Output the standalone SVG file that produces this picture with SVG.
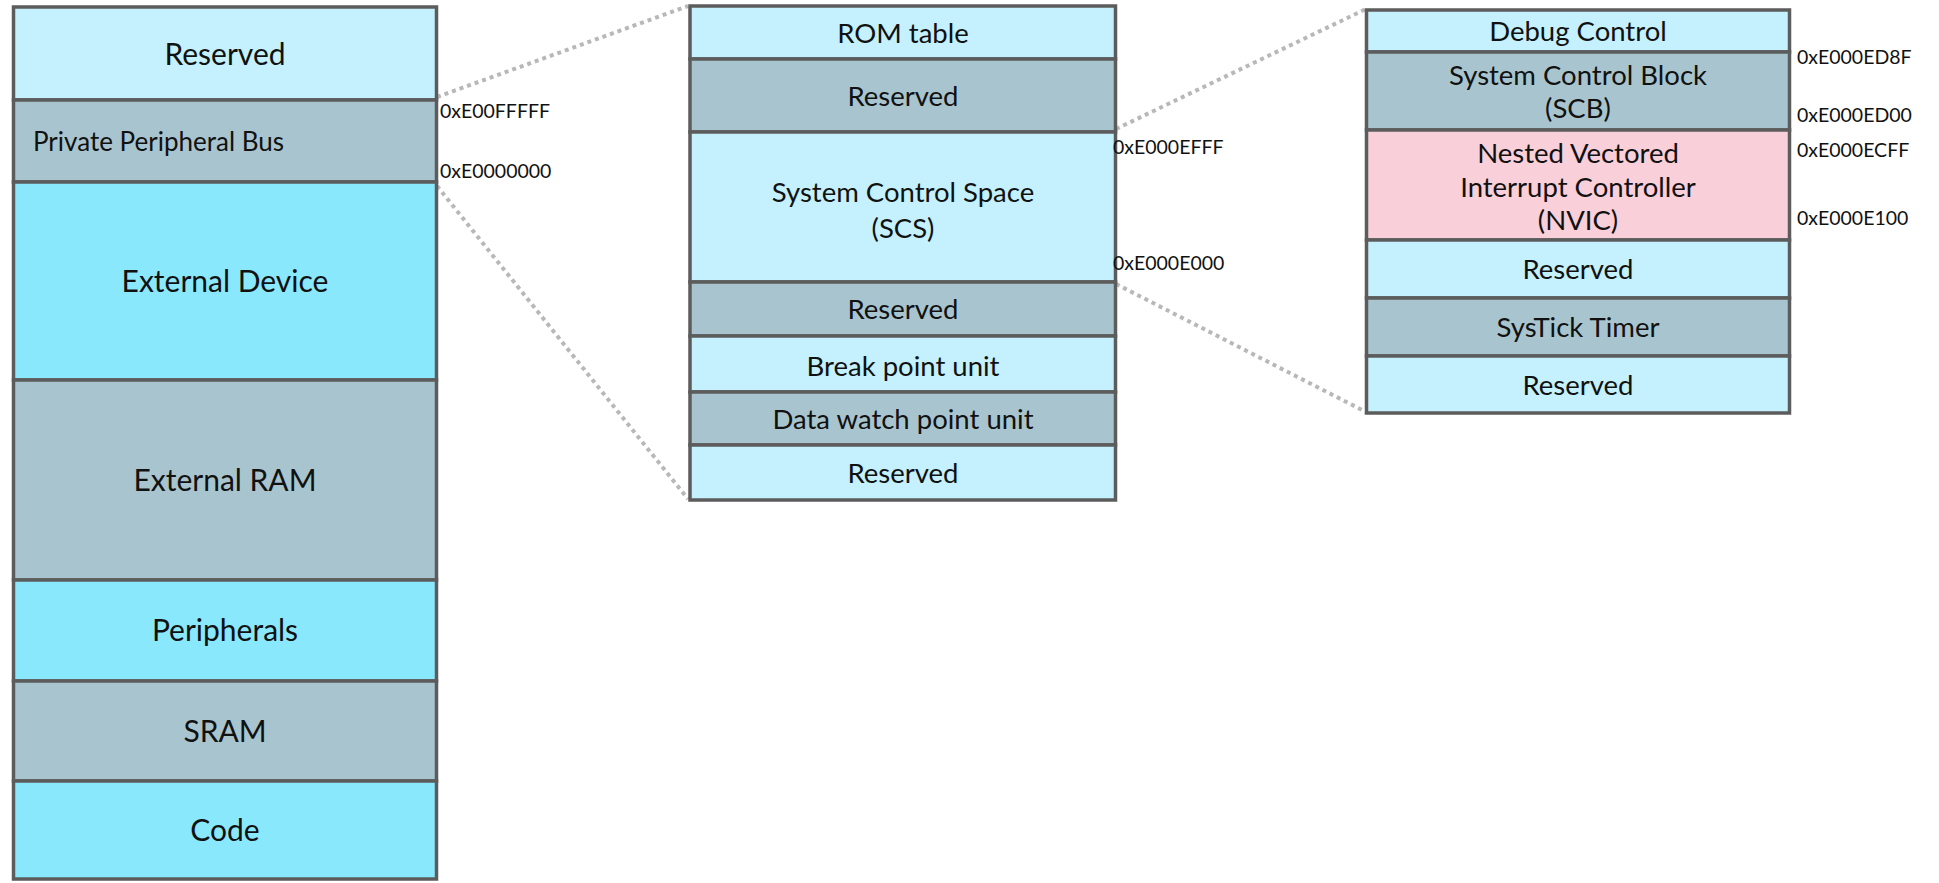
<svg xmlns="http://www.w3.org/2000/svg" width="1939" height="883" viewBox="0 0 1939 883">
<style>
.b{stroke:#5c5c5c;stroke-width:3.5}
.lc{fill:#c4f1fd}
.mc{fill:#8ae8fd}
.gb{fill:#a8c5cf}
.pk{fill:#f9cfda}
text{font-family:Lato,"Open Sans","Liberation Sans",sans-serif;fill:#111}
.t1{font-size:30px;text-anchor:middle}
.t2{font-size:27.5px;text-anchor:middle}
.t3{font-size:26px}
.ad{font-size:19.5px}
.dot{stroke:#b8b8b8;stroke-width:4;stroke-dasharray:4 4;fill:none}
</style>
<rect width="1939" height="883" fill="#fff"/>
<g id="connectors">
<line class="dot" x1="437" y1="97" x2="688" y2="6"/>
<line class="dot" x1="437" y1="186" x2="688" y2="499"/>
<line class="dot" x1="1116" y1="129" x2="1366" y2="9"/>
<line class="dot" x1="1116" y1="284" x2="1366" y2="412"/>
</g>
<g id="left-map">
<g id="reserved-top"><rect class="b lc" x="13.5" y="7" width="423" height="93"/><text class="t1" x="225" y="65">Reserved</text></g>
<g id="ppb"><rect class="b gb" x="13.5" y="100" width="423" height="82"/><text class="t3" x="33" y="151">Private Peripheral Bus</text></g>
<g id="external-device"><rect class="b mc" x="13.5" y="182" width="423" height="198"/><text class="t1" x="225" y="292">External Device</text></g>
<g id="external-ram"><rect class="b gb" x="13.5" y="380" width="423" height="200"/><text class="t1" x="225" y="491">External RAM</text></g>
<g id="peripherals"><rect class="b mc" x="13.5" y="580" width="423" height="101"/><text class="t1" x="225" y="641">Peripherals</text></g>
<g id="sram"><rect class="b gb" x="13.5" y="681" width="423" height="100"/><text class="t1" x="225" y="742">SRAM</text></g>
<g id="code"><rect class="b mc" x="13.5" y="781" width="423" height="98"/><text class="t1" x="225" y="841">Code</text></g>
</g>
<g id="ppb-map">
<g id="rom-table"><rect class="b lc" x="690" y="6" width="425.5" height="53"/><text class="t2" x="903" y="43">ROM table</text></g>
<g id="ppb-reserved-1"><rect class="b gb" x="690" y="59" width="425.5" height="73"/><text class="t2" x="903" y="106">Reserved</text></g>
<g id="scs"><rect class="b lc" x="690" y="132" width="425.5" height="150"/><text class="t2" x="903" y="202">System Control Space</text><text class="t2" x="903" y="238">(SCS)</text></g>
<g id="ppb-reserved-2"><rect class="b gb" x="690" y="282" width="425.5" height="54"/><text class="t2" x="903" y="319">Reserved</text></g>
<g id="bpu"><rect class="b lc" x="690" y="336" width="425.5" height="56"/><text class="t2" x="903" y="376">Break point unit</text></g>
<g id="dwpu"><rect class="b gb" x="690" y="392" width="425.5" height="53"/><text class="t2" x="903" y="429">Data watch point unit</text></g>
<g id="ppb-reserved-3"><rect class="b lc" x="690" y="445" width="425.5" height="55"/><text class="t2" x="903" y="483">Reserved</text></g>
</g>
<g id="scs-map">
<g id="debug-control"><rect class="b lc" x="1366.5" y="10" width="423" height="42"/><text class="t2" x="1578" y="41">Debug Control</text></g>
<g id="scb"><rect class="b gb" x="1366.5" y="52" width="423" height="78"/><text class="t2" x="1578" y="85">System Control Block</text><text class="t2" x="1578" y="118">(SCB)</text></g>
<g id="nvic"><rect class="b pk" x="1366.5" y="130" width="423" height="110"/><text class="t2" x="1578" y="163">Nested Vectored</text><text class="t2" x="1578" y="197">Interrupt Controller</text><text class="t2" x="1578" y="230">(NVIC)</text></g>
<g id="scs-reserved-1"><rect class="b lc" x="1366.5" y="240" width="423" height="58"/><text class="t2" x="1578" y="279">Reserved</text></g>
<g id="systick"><rect class="b gb" x="1366.5" y="298" width="423" height="58"/><text class="t2" x="1578" y="337">SysTick Timer</text></g>
<g id="scs-reserved-2"><rect class="b lc" x="1366.5" y="356" width="423" height="57"/><text class="t2" x="1578" y="395">Reserved</text></g>
</g>
<g id="addresses">
<text class="ad" x="440" y="118">0xE00FFFFF</text>
<text class="ad" x="440" y="178">0xE0000000</text>
<text class="ad" x="1113" y="154">0xE000EFFF</text>
<text class="ad" x="1113" y="270">0xE000E000</text>
<text class="ad" x="1797" y="64">0xE000ED8F</text>
<text class="ad" x="1797" y="122">0xE000ED00</text>
<text class="ad" x="1797" y="157">0xE000ECFF</text>
<text class="ad" x="1797" y="225">0xE000E100</text>
</g>
</svg>
